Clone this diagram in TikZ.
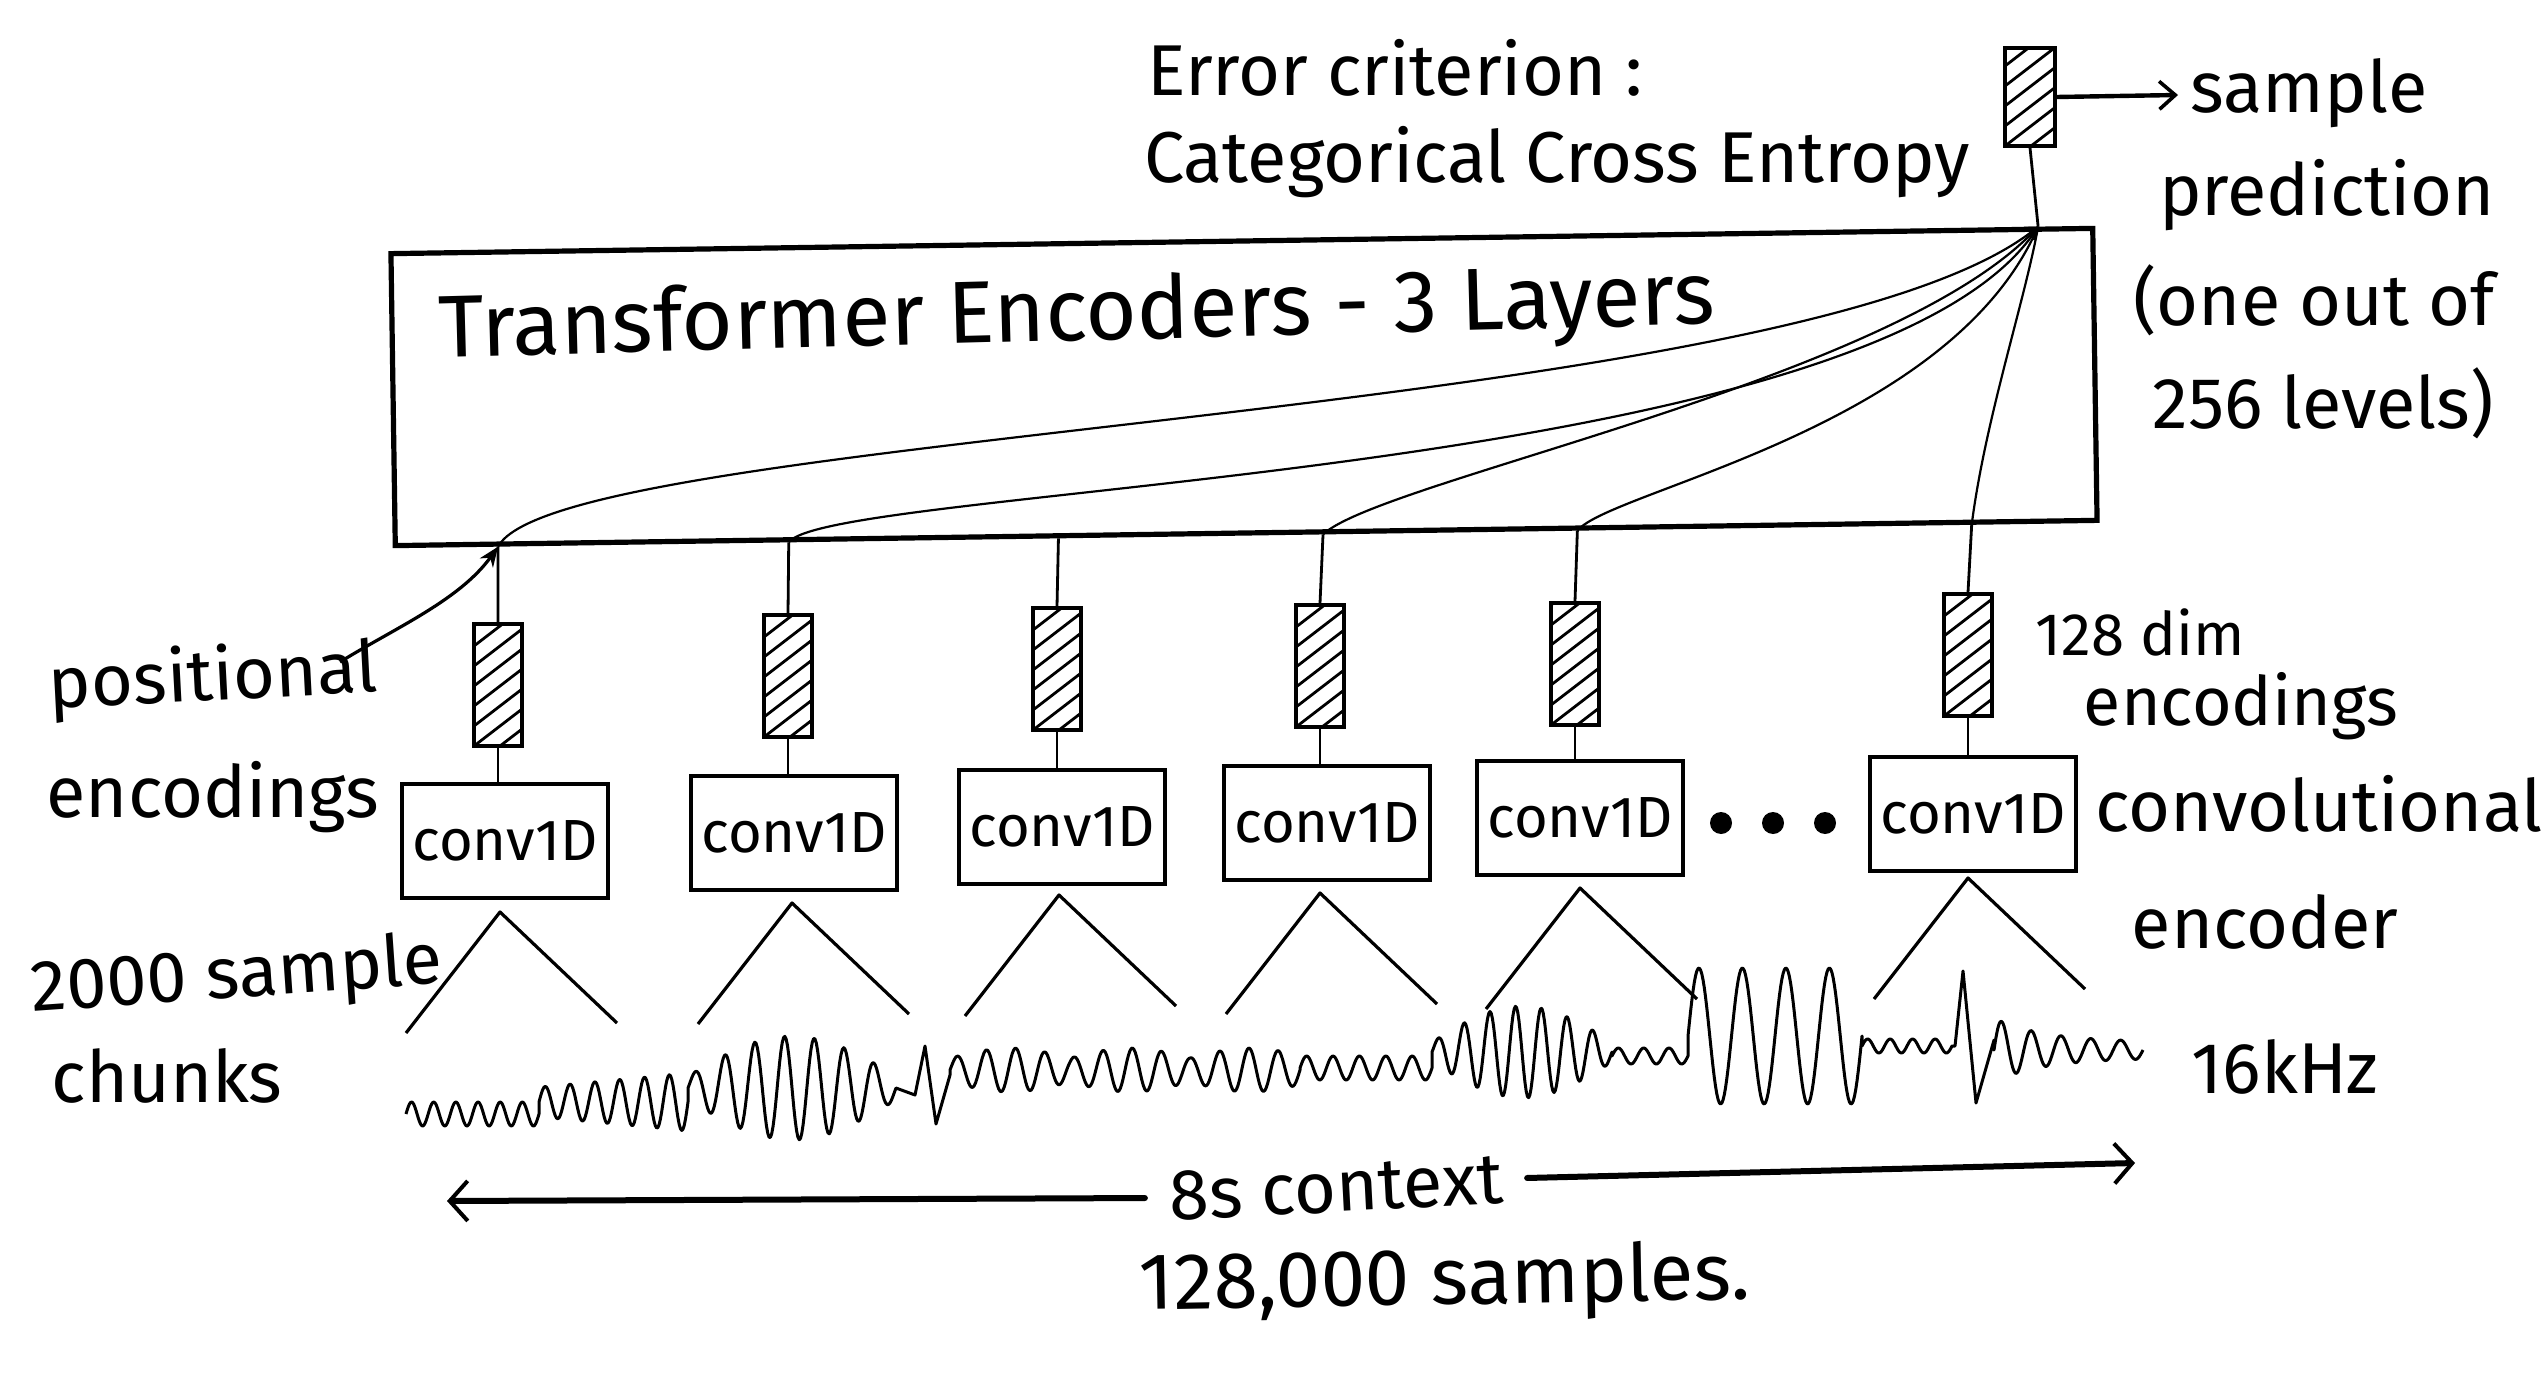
\documentclass[tikz,border=0pt]{standalone}
\usepackage{fontspec}
\setmainfont{Fira Sans}
\usetikzlibrary{arrows.meta,calc}
\begin{document}
\begin{tikzpicture}[x=0.5pt,y=-0.5pt,
 lbl/.style={font=\fontsize{36}{42}\selectfont, inner sep=0pt},
 vecbox/.style={draw, line width=1.8pt, minimum width=24pt, minimum height=61pt, inner sep=0pt,
   path picture={\foreach \k in {-3,...,7}{\draw[line width=1.4pt] ([yshift=\k*10pt]path picture bounding box.south west) -- ++(26pt,20pt);}}},
 convbox/.style={draw, line width=2.3pt, minimum width=103pt, minimum height=57pt, inner sep=0pt, font=\fontsize{29}{33}\selectfont},
 link/.style={line width=1.4pt},
 flow/.style={line width=1.1pt},
 peak/.style={line width=1.6pt, line join=round},
 wave/.style={line width=1.5pt, line join=round},
 ctxline/.style={line width=3pt, line cap=round, -{Straight Barb[length=9pt,width=20pt,line width=2pt]}},
 dot/.style={circle, fill, inner sep=0pt, minimum size=11pt}
]
\fill[white] (0,0) rectangle (2546,1374);
\useasboundingbox (0,0) rectangle (2546,1374);

% encoder block
\node[draw, line width=2.6pt, minimum width=851pt, minimum height=146pt, rotate=0.85, inner sep=0pt] (enc) at (1244,387) {};
\node[font=\fontsize{44}{50}\selectfont, inner sep=0pt, rotate=1.5] (enctxt) at (1077,317) {Transformer Encoders - 3 Layers};

\coordinate (b1) at ($(enc.south west)!0.0617!(enc.south east)$);
\coordinate (b2) at ($(enc.south west)!0.232!(enc.south east)$);
\coordinate (b3) at ($(enc.south west)!0.390!(enc.south east)$);
\coordinate (b4) at ($(enc.south west)!0.545!(enc.south east)$);
\coordinate (b5) at ($(enc.south west)!0.694!(enc.south east)$);
\coordinate (b6) at ($(enc.south west)!0.925!(enc.south east)$);
\coordinate (tp) at ($(enc.north west)!0.9665!(enc.north east)$);

% attention curves
\draw[flow, -{Straight Barb[length=5pt,width=8pt]}] (b1) .. controls (560,430) and (1800,420) .. (tp);
\draw[flow] (b2) .. controls (830,485) and (1880,480) .. (tp);
\draw[flow] (b4) .. controls (1380,480) and (1900,380) .. (tp);
\draw[flow] (b5) .. controls (1610,490) and (1950,430) .. (tp);
\draw[flow] (b6) .. controls (1985,420) and (2025,300) .. (tp);

% output vector
\node[vecbox, minimum width=25pt, minimum height=49pt] (vout) at (2030,97) {};
\draw[link] (vout.south) -- (tp);
\coordinate (sp) at (2178,95);
\draw[line width=2.2pt, -{Straight Barb[length=8pt,width=14pt,line width=1.8pt]}] (vout.east) -- (sp);

% encodings vectors
\node[vecbox] (v1) at (498,685) {};
\node[vecbox] (v2) at (788,676) {};
\node[vecbox] (v3) at (1057,669) {};
\node[vecbox] (v4) at (1320,666) {};
\node[vecbox] (v5) at (1575,664) {};
\node[vecbox] (v6) at (1968,655) {};

% conv boxes
\node[convbox] (c1) at (505,841) {conv1D};
\node[convbox] (c2) at (794,833) {conv1D};
\node[convbox] (c3) at (1062,827) {conv1D};
\node[convbox] (c4) at (1327,823) {conv1D};
\node[convbox] (c5) at (1580,818) {conv1D};
\node[convbox] (c6) at (1973,814) {conv1D};

\node[dot] (d1) at (1721,823) {};
\node[dot] (d2) at (1773,823) {};
\node[dot] (d3) at (1825,823) {};

\foreach \i in {1,...,6}{
  \draw[link] (v\i.north) -- (b\i);
  \draw[link] (v\i.south) -- (v\i.south |- c\i.north);
}

% chunk peaks
\foreach \ax/\ay in {500/912, 792/903, 1059/895, 1320/893, 1580/888, 1968/878}{
  \draw[peak] (\ax-94,\ay+121) -- (\ax,\ay) -- (\ax+117,\ay+111);
}

% waveform
\draw[wave]
 plot[domain=0:133,samples=120] ({406+\x},{1114-12*sin(\x*6/133*360)})
 -- plot[domain=0:149,samples=120] ({539+\x},{1102-(15+14*\x/149)*sin(\x*6/149*360)})
 -- plot[domain=0:208,samples=160] ({688+\x},{1088-(12+40*sin(\x/208*180))*sin(\x*7/208*360)})
 -- (915,1095) -- (925,1046) -- (936,1124) -- (950,1075)
 -- plot[domain=0:350,samples=260] ({950+\x},{1070-(12+10*abs(sin(\x/120*180)))*sin(\x*12/350*360)})
 -- plot[domain=0:132,samples=100] ({1300+\x},{1068-12*sin(\x*5/132*360)})
 -- plot[domain=0:180,samples=150] ({1432+\x},{1052-(10+36*sin(\x/180*180))*sin(\x*7/180*360)})
 -- plot[domain=0:76,samples=60] ({1612+\x},{1056-8*sin(\x*3/76*360)})
 -- plot[domain=0:174,samples=140] ({1688+\x},{1036-68*sin(\x*4/174*360)})
 -- plot[domain=0:90,samples=70] ({1862+\x},{1046-7*sin(\x*4/90*360)})
 -- (1955,1046) -- (1963,971) -- (1976,1103) -- (1994,1040)
 -- plot[domain=0:149,samples=120] ({1994+\x},{1050-(8+24*exp(-\x/50))*sin(\x*5/149*360)});

% left labels
\node[lbl, rotate=3] (pos1) at (213,680) {positional};
\node[lbl] (pos2) at (213,797) {encodings};
\coordinate (pa) at (340,662);
\draw[line width=1.6pt, -{Stealth[length=10pt,width=8pt]}] (pa) .. controls (395,628) and (460,600) .. (b1);
\node[lbl, rotate=4] (ch1) at (237,978) {2000 sample};
\node[lbl] (ch2) at (167,1076) {chunks};

% right labels
\node[lbl] (s1) at (2309,93) {sample};
\node[lbl] (s2) at (2327,195) {prediction};
\node[lbl] (s3) at (2314,300) {(one out of};
\node[lbl] (s4) at (2323,403) {256 levels)};
\node[lbl, font=\fontsize{30}{36}\selectfont] (dim1) at (2140,632) {128 dim};
\node[lbl, font=\fontsize{34}{40}\selectfont] (dim2) at (2241,706) {encodings};
\node[lbl] (ce1) at (2319,804) {convolutional};
\node[lbl] (ce2) at (2265,922) {encoder};
\node[lbl] (khz) at (2285,1067) {16kHz};

% top labels
\node[lbl] (err) at (1395,68) {Error criterion :};
\node[lbl] (cce) at (1557,162) {Categorical Cross Entropy};

% context
\node[lbl, inner xsep=12pt, inner ysep=0pt, rotate=3] (ctx) at (1336,1188) {8s context};
\coordinate (cl) at (447,1201);
\coordinate (cr) at (2135,1163);
\draw[ctxline] (ctx.west) -- (cl);
\draw[ctxline] (ctx.east) -- (cr);
\node[lbl, font=\fontsize{40}{46}\selectfont, rotate=1] (smp) at (1445,1283) {128,000 samples.};
\end{tikzpicture}
\end{document}
